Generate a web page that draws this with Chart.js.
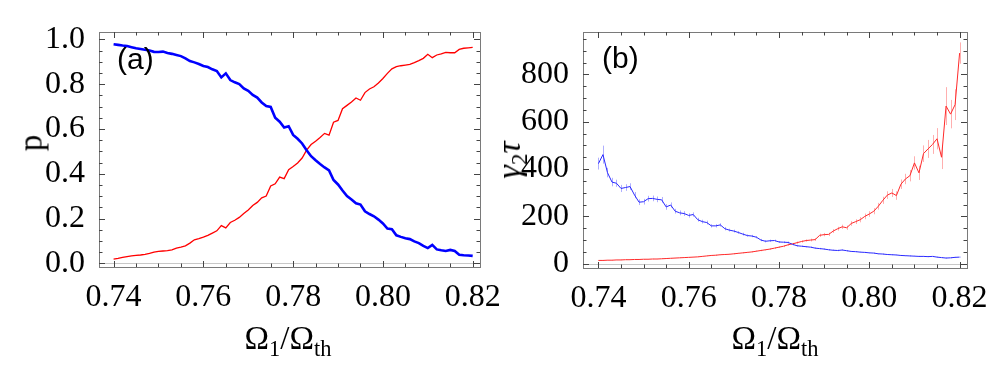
<!DOCTYPE html>
<html>
<head>
<meta charset="utf-8">
<script src="https://cdn.jsdelivr.net/npm/chart.js@4.4.1/dist/chart.umd.min.js"></script>
<style>
  html,body{margin:0;padding:0;background:#fff;}
  #wrap{position:relative;width:996px;height:374px;overflow:hidden;background:#fff;}
  canvas{position:absolute;top:0;}
  .ttl{position:absolute;font-family:"Liberation Serif","DejaVu Serif",serif;font-size:33px;color:#000;white-space:nowrap;line-height:1;}
  .ttl sub{font-size:68%;vertical-align:baseline;position:relative;top:0.32em;}
  .rot{transform:translate(-50%,-50%) rotate(-90deg);}
  .xt{transform:translate(-50%,-50%);}
  .panel{position:absolute;font-family:"Liberation Sans",Arial,sans-serif;font-size:30px;line-height:1;color:#000;}
</style>
</head>
<body>
<div id="wrap">
  <canvas id="chartA" width="510" height="374" style="left:0"></canvas>
  <canvas id="chartB" width="486" height="374" style="left:510px"></canvas>

  <div class="panel" style="left:117px;top:44px">(a)</div>
  <div class="panel" style="left:602px;top:43px">(b)</div>

  <div class="ttl rot" style="left:31px;top:143px">p</div>
  <div class="ttl rot" style="left:509px;top:160px;font-size:34px"><i>γ</i><sub>2</sub><i>τ</i></div>
  <div class="ttl xt" style="left:288px;top:338px">Ω<sub>1</sub>/Ω<sub>th</sub></div>
  <div class="ttl xt" style="left:775px;top:338px">Ω<sub>1</sub>/Ω<sub>th</sub></div>
</div>

<script>
/***********************
 * DATA
 ***********************/
var X_VALUES = [
  0.740,0.741,0.742,0.743,0.744,0.745,0.746,0.747,0.748,0.749,
  0.750,0.751,0.752,0.753,0.754,0.755,0.756,0.757,0.758,0.759,
  0.760,0.761,0.762,0.763,0.764,0.765,0.766,0.767,0.768,0.769,
  0.770,0.771,0.772,0.773,0.774,0.775,0.776,0.777,0.778,0.779,
  0.780,0.781,0.782,0.783,0.784,0.785,0.786,0.787,0.788,0.789,
  0.790,0.791,0.792,0.793,0.794,0.795,0.796,0.797,0.798,0.799,
  0.800,0.801,0.802,0.803,0.804,0.805,0.806,0.807,0.808,0.809,
  0.810,0.811,0.812,0.813,0.814,0.815,0.816,0.817,0.818,0.819,
  0.820
];

// (a) p
var P_BLUE = [
  0.978,0.975,0.972,0.970,0.965,0.960,0.957,0.953,0.950,0.944,
  0.943,0.945,0.939,0.935,0.930,0.925,0.915,0.903,0.897,0.890,
  0.881,0.876,0.866,0.858,0.830,0.848,0.818,0.808,0.800,0.781,
  0.770,0.752,0.740,0.718,0.702,0.698,0.650,0.632,0.606,0.612,
  0.573,0.556,0.535,0.505,0.478,0.460,0.443,0.428,0.415,0.372,
  0.352,0.325,0.300,0.285,0.268,0.262,0.232,0.220,0.210,0.195,
  0.178,0.155,0.152,0.125,0.118,0.112,0.108,0.098,0.090,0.078,
  0.068,0.082,0.062,0.058,0.055,0.060,0.055,0.038,0.036,0.035,
  0.033
];
var P_RED = [
  0.019,0.022,0.026,0.030,0.033,0.035,0.037,0.040,0.044,0.050,
  0.053,0.055,0.057,0.060,0.068,0.072,0.078,0.090,0.105,0.110,
  0.117,0.125,0.135,0.145,0.168,0.158,0.182,0.192,0.205,0.222,
  0.238,0.258,0.272,0.292,0.300,0.345,0.355,0.385,0.378,0.418,
  0.432,0.448,0.470,0.505,0.530,0.545,0.562,0.580,0.572,0.630,
  0.638,0.690,0.705,0.720,0.738,0.728,0.762,0.778,0.788,0.805,
  0.825,0.848,0.868,0.878,0.882,0.885,0.888,0.896,0.905,0.915,
  0.933,0.918,0.930,0.935,0.942,0.940,0.940,0.955,0.960,0.962,
  0.964
];

// (b) gamma2*tau mit Fehlerbalken
var G_BLUE = [
  423,461,385,345,340,318,322,326,290,260,
  262,275,276,272,270,240,248,222,215,212,
  204,208,186,178,174,160,160,164,148,142,
  138,132,125,119,117,112,100,95,97,98,
  92,91,90,82,76,74,72,70,66,64,
  62,59,57,56,58,55,52,51,49,48,
  46,45,42,41,39,38,37,35,34,33,
  32,31,31,30,31,28,26,24,25,27,
  28
];
var G_BLUE_ERR = [
  25,38,20,18,15,15,14,14,13,12,
  12,12,12,12,12,12,11,10,10,10,
  9,9,8,8,8,7,7,7,7,6,
  6,6,6,5,5,5,5,5,5,4,
  4,4,4,4,4,3,3,3,3,3,
  3,3,3,3,3,3,2,2,2,2,
  2,2,2,2,2,2,2,2,2,2,
  2,2,2,2,2,2,2,2,2,2,
  2
];
var G_RED = [
  14,14,15,15,16,16,17,17,18,18,
  19,19,20,20,21,22,23,24,25,26,
  27,28,29,31,33,35,36,38,39,40,
  42,44,46,48,50,53,56,59,62,66,
  70,74,80,84,89,94,98,100,102,120,
  123,124,138,148,156,152,170,178,186,200,
  210,222,243,268,290,299,288,336,358,372,
  426,384,465,485,504,528,450,666,632,672,
  890
];
var G_RED_ERR = [
  1,1,1,1,1,1,1,1,1,1,
  1,1,1,1,1,1,1,1,1,1,
  1,1,1,1,1,2,2,2,2,2,
  2,2,2,2,2,3,3,3,3,3,
  3,4,4,4,5,5,5,6,6,7,
  7,7,8,8,9,9,10,10,11,12,
  12,13,14,15,16,17,18,20,22,24,
  28,30,35,38,40,45,50,80,60,65,
  45
];

// Achsen
var X_TICKS   = [0.74, 0.76, 0.78, 0.80, 0.82];
var Y_TICKS_A = [0.0, 0.2, 0.4, 0.6, 0.8, 1.0];
var Y_TICKS_B = [0, 200, 400, 600, 800];

/***********************
 * HILFSFUNKTIONEN
 ***********************/
Chart.defaults.font.family = "Liberation Serif";
Chart.defaults.font.size = 32;
Chart.defaults.color = "#000";

function toPoints(xs, ys){
  var out = [];
  for (var i=0;i<xs.length;i++) out.push({ x: xs[i], y: ys[i] });
  return out;
}
function fixedTicks(list){
  return function(scale){
    scale.ticks = list.map(function(v){ return { value: v }; });
  };
}

// Rahmen + Ticks nach innen (Mathematica-Stil), Null-Linie
var frameTicks = {
  id: "frameTicks",
  beforeDatasetsDraw: function(chart){
    var a = chart.chartArea, ys = chart.scales.y, ctx = chart.ctx;
    ctx.save();
    ctx.strokeStyle = "#c8c8c8";
    ctx.lineWidth = 1;
    var y0 = Math.round(ys.getPixelForValue(0)) + 0.5;
    ctx.beginPath(); ctx.moveTo(a.left, y0); ctx.lineTo(a.right, y0); ctx.stroke();
    ctx.restore();
  },
  afterDraw: function(chart){
    var o = chart.options.plugins.frameTicks;
    var a = chart.chartArea, xs = chart.scales.x, ys = chart.scales.y, ctx = chart.ctx;
    ctx.save();
    ctx.strokeStyle = "#7a7a7a";
    ctx.lineWidth = 1;
    ctx.strokeRect(Math.round(a.left)+0.5, Math.round(a.top)+0.5, Math.round(a.right-a.left), Math.round(a.bottom-a.top));
    ctx.strokeStyle = "#444";
    var i, v, p, len;
    for (i=0;i<=o.xCount;i++){
      v = o.xStart + i*o.xStep;
      p = Math.round(xs.getPixelForValue(v)) + 0.5;
      len = (i % o.xMajorEvery === 0) ? 6 : 3.5;
      ctx.beginPath();
      ctx.moveTo(p, a.bottom); ctx.lineTo(p, a.bottom - len);
      ctx.moveTo(p, a.top);    ctx.lineTo(p, a.top + len);
      ctx.stroke();
    }
    for (i=0;i<=o.yCount;i++){
      v = o.yStart + i*o.yStep;
      p = Math.round(ys.getPixelForValue(v)) + 0.5;
      len = (i % o.yMajorEvery === 0) ? 6 : 3.5;
      ctx.beginPath();
      ctx.moveTo(a.left, p);  ctx.lineTo(a.left + len, p);
      ctx.moveTo(a.right, p); ctx.lineTo(a.right - len, p);
      ctx.stroke();
    }
    ctx.restore();
  }
};

// Fehlerbalken fuer Panel (b)
var errorBars = {
  id: "errorBars",
  beforeDatasetsDraw: function(chart){
    var xs = chart.scales.x, ys = chart.scales.y, ctx = chart.ctx;
    ctx.save();
    ctx.lineWidth = 1;
    chart.data.datasets.forEach(function(ds){
      if (!ds.errors) return;
      ctx.strokeStyle = ds.errorColor;
      for (var i=0;i<ds.data.length;i++){
        var px = Math.round(xs.getPixelForValue(ds.data[i].x)) + 0.5;
        var lo = ys.getPixelForValue(ds.data[i].y - ds.errors[i]);
        var hi = ys.getPixelForValue(ds.data[i].y + ds.errors[i]);
        ctx.beginPath(); ctx.moveTo(px, lo); ctx.lineTo(px, hi); ctx.stroke();
      }
    });
    ctx.restore();
  }
};

function baseOptions(cfg){
  return {
    responsive: false,
    animation: false,
    events: [],
    layout: { padding: { top: 32, right: cfg.padRight, left: 0, bottom: 0 } },
    plugins: {
      legend: { display: false },
      tooltip: { enabled: false },
      frameTicks: cfg.ticks
    },
    scales: {
      x: {
        type: "linear",
        min: cfg.xMin, max: cfg.xMax,
        afterBuildTicks: fixedTicks(X_TICKS),
        afterFit: function(s){ s.height = cfg.xHeight; },
        grid: { display: false },
        border: { display: false },
        ticks: {
          font: { family: "Liberation Serif", size: 32 }, color: "#000",
          padding: 3, maxRotation: 0, autoSkip: false,
          callback: function(v){ return Number(v).toFixed(2); }
        }
      },
      y: {
        type: "linear",
        min: cfg.yMin, max: cfg.yMax,
        afterBuildTicks: fixedTicks(cfg.yTicks),
        afterFit: function(s){ s.width = cfg.yWidth; },
        grid: { display: false },
        border: { display: false },
        ticks: {
          font: { family: "Liberation Serif", size: 32 }, color: "#000",
          padding: 6, autoSkip: false,
          callback: cfg.yFormat
        }
      }
    }
  };
}

/***********************
 * CHARTS
 ***********************/
new Chart(document.getElementById("chartA").getContext("2d"), {
  type: "line",
  data: {
    datasets: [
      { data: toPoints(X_VALUES, P_BLUE), borderColor: "#0000ff", borderWidth: 2.6, pointRadius: 0, tension: 0, fill: false },
      { data: toPoints(X_VALUES, P_RED),  borderColor: "#ff0000", borderWidth: 1.3, pointRadius: 0, tension: 0, fill: false }
    ]
  },
  options: baseOptions({
    padRight: 30, xHeight: 107, yWidth: 99,
    xMin: 0.73675, xMax: 0.82163,
    yMin: -0.0165, yMax: 1.0326,
    yTicks: Y_TICKS_A,
    yFormat: function(v){ return Number(v).toFixed(1); },
    ticks: { xStart: 0.74, xStep: 0.005, xCount: 16, xMajorEvery: 4,
             yStart: 0, yStep: 0.05, yCount: 20, yMajorEvery: 4 }
  }),
  plugins: [frameTicks]
});

new Chart(document.getElementById("chartB").getContext("2d"), {
  type: "line",
  data: {
    datasets: [
      { data: toPoints(X_VALUES, G_BLUE), errors: G_BLUE_ERR, errorColor: "rgba(110,110,255,0.55)",
        borderColor: "#2a2aff", borderWidth: 1, pointRadius: 0, tension: 0, fill: false },
      { data: toPoints(X_VALUES, G_RED), errors: G_RED_ERR, errorColor: "rgba(255,110,110,0.55)",
        borderColor: "#ff2a2a", borderWidth: 1, pointRadius: 0, tension: 0, fill: false }
    ]
  },
  options: baseOptions({
    padRight: 29, xHeight: 106, yWidth: 73,
    xMin: 0.73658, xMax: 0.82164,
    yMin: -18, yMax: 979,
    yTicks: Y_TICKS_B,
    yFormat: function(v){ return String(v); },
    ticks: { xStart: 0.74, xStep: 0.005, xCount: 16, xMajorEvery: 4,
             yStart: 0, yStep: 50, yCount: 19, yMajorEvery: 4 }
  }),
  plugins: [frameTicks, errorBars]
});
</script>
</body>
</html>
